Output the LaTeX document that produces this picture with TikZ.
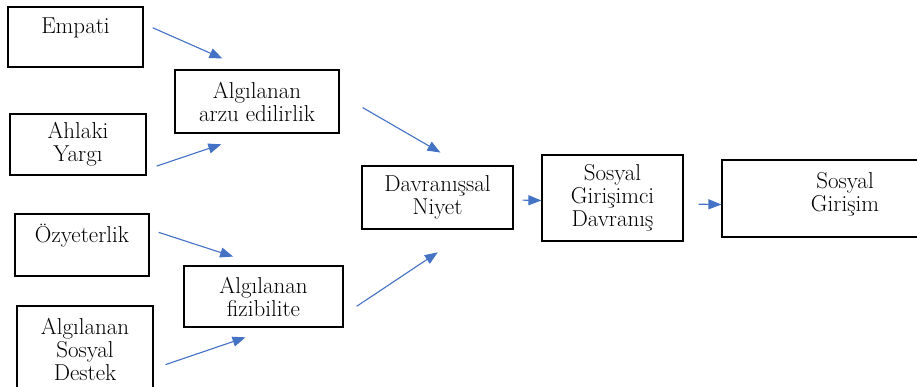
\documentclass[tikz,border=0pt]{standalone}
\usetikzlibrary{arrows.meta}
\definecolor{arrblue}{RGB}{68,114,196}

\begin{document}
\begin{tikzpicture}
    [
        x=1pt, y=-1pt,
        box/.style={rectangle, draw, line width=1.2pt, align=center, inner sep=0pt,
            font=\rmfamily\fontsize{23}{23}\selectfont,},
        arr/.style={-{Triangle[length=13pt,width=10pt]}, draw=arrblue, fill=arrblue, line width=1.1pt,},
    ]
    \useasboundingbox (0,0) rectangle (917,387);

    % inputs
    \node (emp) at (75.5,37)  [box, minimum width=135pt, minimum height=60pt] {Empati\\\mbox{}};
    \node (ahl) at (78,144.5) [box, minimum width=136pt, minimum height=61pt] {Ahlaki\\Yargı};
    \node (ozy) at (82,245)   [box, minimum width=134pt, minimum height=62pt] {Özyeterlik\\\mbox{}};
    \node (des) at (85,349)   [box, minimum width=136pt, minimum height=86pt] {Algılanan\\Sosyal\\Destek};

    % perceptions
    \node (arzu) at (257,101.5)  [box, minimum width=164pt, minimum height=63pt] {Algılanan\\arzu edilirlik};
    \node (fiz)  at (263.5,296.5) [box, minimum width=159pt, minimum height=61pt] {Algılanan\\fizibilite};

    % outcome chain
    \node (niy) at (437.5,197.5) [box, minimum width=151pt, minimum height=63pt] {Davranışsal\\Niyet};
    \node (gdv) at (612.5,198)   [box, minimum width=141pt, minimum height=86pt] {Sosyal\\Girişimci\\Davranış};
    \node (gir) at (845,198.5)   [box, minimum width=246pt, minimum height=77pt] {Sosyal\\Girişim\\[-9pt]\mbox{}};

    \path
    (emp.11)   edge [arr, shorten <=10pt,   shorten >=27pt]   (arzu.107.6)
    (ahl.-20.9) edge [arr, shorten <=10.6pt, shorten >=33.5pt] (arzu.263.8)
    (ozy.13.4) edge [arr, shorten <=9.5pt,  shorten >=28.5pt] (fiz.96.5)
    (des.-16.5) edge [arr, shorten <=12.7pt, shorten >=30.3pt] (fiz.-71.7)
    (arzu.5.6) edge [arr, shorten <=26.7pt, shorten >=25.6pt] (niy.52.1)
    (fiz.-13.6) edge [arr, shorten <=15.7pt, shorten >=41pt]   (niy.-43.3)
    ([yshift=-2.5pt]niy.east) edge [arr, shorten <=9pt]  ([yshift=-2.5pt]gdv.west)
    ([yshift=-6pt]gdv.east)   edge [arr, shorten <=15pt] ([yshift=-6pt]gir.west);

\end{tikzpicture}
\end{document}
